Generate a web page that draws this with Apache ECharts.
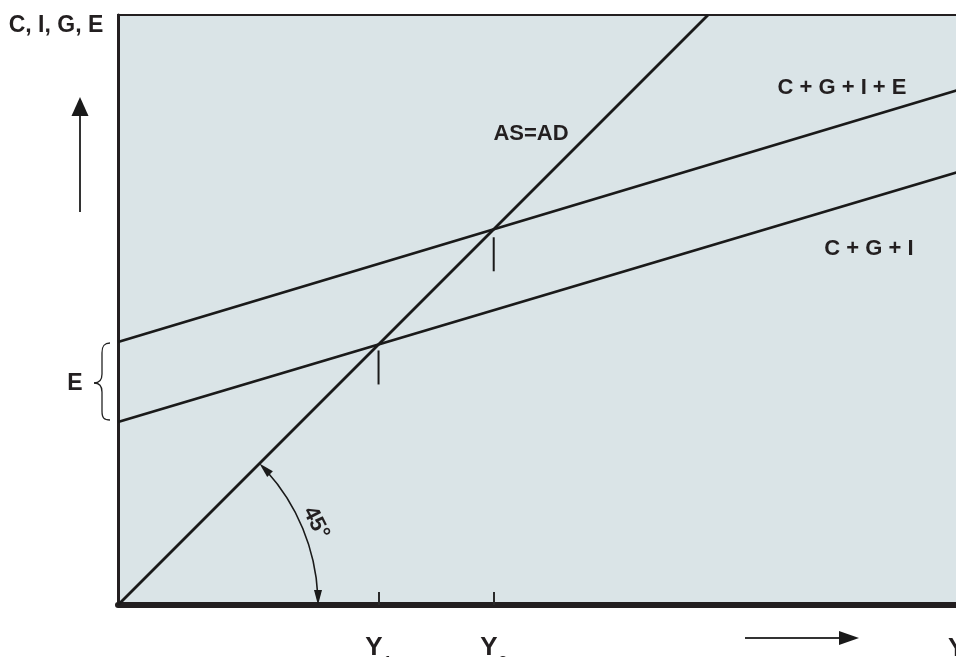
<!DOCTYPE html>
<html>
<head>
<meta charset="utf-8">
<script src="https://cdn.jsdelivr.net/npm/echarts@6/dist/echarts.min.js"></script>
<style>
html,body{margin:0;padding:0;background:#fff;}
#c{width:956px;height:657px;}
</style>
</head>
<body>
<div id="c"></div>
<script>
// ---- data (abstract units; income on x, spending on y) ----
const asadLine = [[0, 0], [590, 590]];          // 45° line AS=AD
const cgiLine = [[0, 183], [840, 433]];         // C + G + I
const cgieLine = [[0, 263], [840, 515]];        // C + G + I + E
const lineNames = ['AS=AD', 'C + G + I', 'C + G + I + E'];
const incomeLabels = ['1', '2'];                // Y subscripts
const axisTitleY = 'C, I, G, E';
const axisTitleX = 'Y';
const braceLabel = 'E';
const angleLabel = '45°';
const xMax = 840, yMax = 590;

// equilibrium income: where a spending line meets the 45° line
function meet(line) {
  const b = (line[1][1] - line[0][1]) / (line[1][0] - line[0][0]);
  const a = line[0][1] - b * line[0][0];
  return a / (1 - b);
}
const Y1 = meet(cgiLine);
const Y2 = meet(cgieLine);
const incomeValues = [Y1, Y2];

const INK = '#231f20';
const FONT = '"Liberation Sans", Arial, sans-serif';

const chart = echarts.init(document.getElementById('c'), null, {renderer: 'canvas'});

function lineSeries(name, data, w) {
  return {
    name: name, type: 'line', data: data, symbol: 'none', silent: true,
    lineStyle: {color: '#1a1a1a', width: w}, z: 3, animation: false
  };
}

const option = {
  animation: false,
  backgroundColor: '#ffffff',
  grid: {
    left: 118, right: -2, top: 15, bottom: 52, show: true,
    outerBoundsMode: 'none', containLabel: false,
    backgroundColor: '#dae4e7', borderColor: INK, borderWidth: 2
  },
  xAxis: {
    type: 'value', min: 0, max: xMax,
    axisLine: {show: true, lineStyle: {color: INK, width: 6}},
    splitLine: {show: false},
    axisTick: {show: true, inside: true, length: 13, customValues: incomeValues,
      lineStyle: {color: '#2a2a2a', width: 2}},
    axisLabel: {
      show: true, customValues: incomeValues, margin: 26,
      formatter: function (v) {
        const i = incomeValues.findIndex(function (q) { return Math.abs(q - v) < 1e-6; });
        return '{m|Y}{s|' + incomeLabels[i] + '}';
      },
      rich: {
        m: {fontSize: 26, fontFamily: FONT, fontWeight: 'bold', color: INK, lineHeight: 30, verticalAlign: 'bottom'},
        s: {fontSize: 15, fontFamily: FONT, fontWeight: 'bold', color: INK, lineHeight: 30, verticalAlign: 'bottom', padding: [0, 0, -8, 1]}
      }
    }
  },
  yAxis: {
    type: 'value', min: 0, max: yMax,
    axisLine: {show: true, lineStyle: {color: INK, width: 3}},
    splitLine: {show: false}, axisTick: {show: false}, axisLabel: {show: false}
  },
  series: [
    lineSeries(lineNames[0], asadLine, 2.8),
    lineSeries(lineNames[1], cgiLine, 2.8),
    lineSeries(lineNames[2], cgieLine, 2.8),
    lineSeries('guide1', [[Y1, Y1 - 6], [Y1, Y1 - 40]], 2),
    lineSeries('guide2', [[Y2, Y2 - 8], [Y2, Y2 - 42]], 2)
  ]
};
chart.setOption(option);

// ---- annotations ----
function head(tip, dir, L, w) {
  const bx = tip[0] - L * dir[0], by = tip[1] - L * dir[1];
  const nx = -dir[1], ny = dir[0];
  return {
    type: 'polygon', silent: true,
    shape: {points: [tip, [bx + w * nx, by + w * ny], [bx - w * nx, by - w * ny]]},
    style: {fill: '#1a1a1a'}, z: 10
  };
}
function txt(s, x, y, size, align, extra) {
  return Object.assign({
    type: 'text', silent: true, x: x, y: y, z: 10,
    style: {text: s, fontSize: size, fontFamily: FONT, fontWeight: 'bold', fill: INK,
      align: align || 'center', verticalAlign: 'middle'}
  }, extra || {});
}
function bez(p0, c1, c2, p1) {
  return {type: 'bezierCurve', silent: true, z: 10,
    shape: {x1: p0[0], y1: p0[1], cpx1: c1[0], cpy1: c1[1], cpx2: c2[0], cpy2: c2[1], x2: p1[0], y2: p1[1]},
    style: {stroke: '#222', lineWidth: 1.3, fill: null}};
}
function seg(p0, p1, w, c) {
  return {type: 'line', silent: true, z: 10,
    shape: {x1: p0[0], y1: p0[1], x2: p1[0], y2: p1[1]},
    style: {stroke: c || '#222', lineWidth: w || 1.3}};
}

const o = chart.convertToPixel({gridIndex: 0}, [0, 0]);
const R = 200;
const a0 = -Math.PI / 4, a1 = 0;
const arcStart = [o[0] + R * Math.cos(a0), o[1] + R * Math.sin(a0)];
const arcEnd = [o[0] + R * Math.cos(a1), o[1] + R * Math.sin(a1)];

const g = [
  txt(axisTitleY, 56, 26, 23, 'center'),
  txt(braceLabel, 75, 384, 23, 'center'),
  txt(lineNames[0], 531, 134, 22, 'center'),
  txt(lineNames[2], 842, 88, 22, 'center'),
  txt(lineNames[1], 869, 249, 22, 'center'),
  txt(axisTitleX, 948, 649, 26, 'left'),
  // vertical arrow
  seg([80, 212], [80, 112], 2, '#333'),
  head([80, 97], [0, -1], 19, 8.5),
  // horizontal arrow
  seg([745, 638], [842, 638], 2, '#333'),
  head([859, 638], [1, 0], 20, 7),
  // brace
  bez([110, 343], [104, 343], [102, 346], [102, 353]),
  seg([102, 353], [102, 374]),
  bez([102, 374], [102, 380], [99, 383], [94, 383]),
  bez([94, 383], [99, 383], [102, 386], [102, 392]),
  seg([102, 392], [102, 411]),
  bez([102, 411], [102, 418], [104, 420], [110, 420]),
  // 45 degree arc
  {type: 'arc', silent: true, z: 10,
    shape: {cx: o[0], cy: o[1], r: R, startAngle: a0 + 0.05, endAngle: a1 - 0.05, clockwise: true},
    style: {stroke: '#1a1a1a', lineWidth: 1.6, fill: null}},
  head(arcStart, [-Math.SQRT1_2, -Math.SQRT1_2], 15, 4),
  head(arcEnd, [0, 1], 15, 4),
  txt(angleLabel, 316, 523, 22, 'center', {rotation: -63 * Math.PI / 180})
];
chart.setOption({graphic: {elements: g}});
</script>
</body>
</html>
